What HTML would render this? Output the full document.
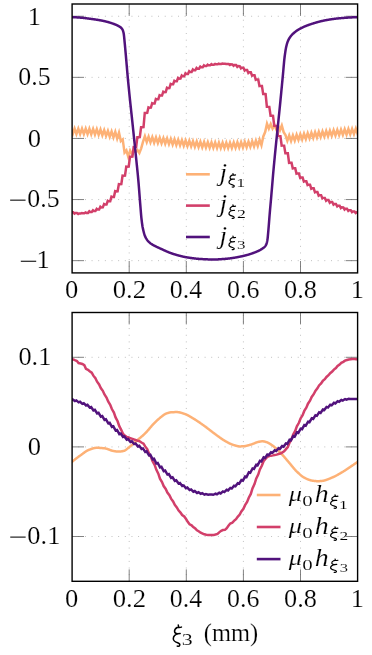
<!DOCTYPE html>
<html><head><meta charset="utf-8"><title>chart</title>
<style>
html,body{margin:0;padding:0;background:#fff}
svg{display:block;will-change:transform}
text{font-family:"Liberation Serif",serif;fill:#000}
.u{font-size:100px;stroke:#fff;stroke-width:0.7}
.i{font-size:100px;font-style:italic;stroke:#fff;stroke-width:0.7}
.g{stroke:#a8a8a8;stroke-width:0.8;stroke-dasharray:0.9 5.75;stroke-dashoffset:0.45;fill:none}
.t{stroke:#5a5a5a;stroke-width:0.75;fill:none}
.f{stroke:#000;stroke-width:1.4;fill:none}
.c path{fill:none;stroke-width:2.5;stroke-linejoin:miter;stroke-miterlimit:10;stroke-linecap:butt}
.l{stroke-width:2.6;fill:none}
</style></head>
<body>
<svg width="372" height="655" viewBox="0 0 372 655">
<rect width="372" height="655" fill="#fff"/>
<line x1="129.20" y1="272.90" x2="129.20" y2="4.00" class="g"/>
<line x1="186.30" y1="272.90" x2="186.30" y2="4.00" class="g"/>
<line x1="243.40" y1="272.90" x2="243.40" y2="4.00" class="g"/>
<line x1="300.50" y1="272.90" x2="300.50" y2="4.00" class="g"/>
<line x1="72.10" y1="16.25" x2="357.60" y2="16.25" class="g"/>
<line x1="72.10" y1="77.35" x2="357.60" y2="77.35" class="g"/>
<line x1="72.10" y1="138.45" x2="357.60" y2="138.45" class="g"/>
<line x1="72.10" y1="199.55" x2="357.60" y2="199.55" class="g"/>
<line x1="72.10" y1="260.65" x2="357.60" y2="260.65" class="g"/>
<line x1="129.20" y1="4.00" x2="129.20" y2="15.90" class="t"/>
<line x1="129.20" y1="272.90" x2="129.20" y2="261.00" class="t"/>
<line x1="186.30" y1="4.00" x2="186.30" y2="15.90" class="t"/>
<line x1="186.30" y1="272.90" x2="186.30" y2="261.00" class="t"/>
<line x1="243.40" y1="4.00" x2="243.40" y2="15.90" class="t"/>
<line x1="243.40" y1="272.90" x2="243.40" y2="261.00" class="t"/>
<line x1="300.50" y1="4.00" x2="300.50" y2="15.90" class="t"/>
<line x1="300.50" y1="272.90" x2="300.50" y2="261.00" class="t"/>
<line x1="72.10" y1="16.25" x2="84.00" y2="16.25" class="t"/>
<line x1="357.60" y1="16.25" x2="345.70" y2="16.25" class="t"/>
<line x1="72.10" y1="77.35" x2="84.00" y2="77.35" class="t"/>
<line x1="357.60" y1="77.35" x2="345.70" y2="77.35" class="t"/>
<line x1="72.10" y1="138.45" x2="84.00" y2="138.45" class="t"/>
<line x1="357.60" y1="138.45" x2="345.70" y2="138.45" class="t"/>
<line x1="72.10" y1="199.55" x2="84.00" y2="199.55" class="t"/>
<line x1="357.60" y1="199.55" x2="345.70" y2="199.55" class="t"/>
<line x1="72.10" y1="260.65" x2="84.00" y2="260.65" class="t"/>
<line x1="357.60" y1="260.65" x2="345.70" y2="260.65" class="t"/>
<clipPath id="c1"><rect x="72.10" y="4.00" width="285.50" height="268.90"/></clipPath>
<g clip-path="url(#c1)" class="c">
<path d="M67.20 128.55 L69.05 134.05 L70.90 128.55 L72.75 134.05 L74.60 128.55 L76.45 134.06 L78.30 128.58 L80.15 134.09 L82.00 128.61 L83.85 134.14 L85.70 128.67 L87.55 134.20 L89.40 128.74 L91.25 134.29 L93.10 128.87 L94.95 134.50 L96.80 129.14 L98.65 134.82 L100.50 129.51 L102.35 135.28 L104.20 130.11 L106.05 135.95 L107.90 130.82 L109.75 136.74 L111.60 131.42 L113.45 137.45 L115.30 131.79 L117.15 138.53 L119.00 132.66 L120.85 141.13 L122.70 139.42 L124.55 152.61 L126.40 150.34 L128.25 156.74 L130.10 150.60 L131.95 154.13 L133.80 150.79 L135.65 152.15 L137.50 150.11 L139.35 153.07 L141.20 148.35 L143.05 141.72 L144.90 136.31 L146.75 141.98 L148.60 136.70 L150.45 142.39 L152.30 137.06 L154.15 142.73 L156.00 137.40 L157.85 143.07 L159.70 137.74 L161.55 143.42 L163.40 138.09 L165.25 143.77 L167.10 138.46 L168.95 144.15 L170.80 138.85 L172.65 144.55 L174.50 139.25 L176.35 144.96 L178.20 139.66 L180.05 145.35 L181.90 140.05 L183.75 145.73 L185.60 140.41 L187.45 146.09 L189.30 140.77 L191.15 146.45 L193.00 141.13 L194.85 146.81 L196.70 141.47 L198.55 147.13 L200.40 141.78 L202.25 147.40 L204.10 142.01 L205.95 147.59 L207.80 142.17 L209.65 147.75 L211.50 142.33 L213.35 147.90 L215.20 142.47 L217.05 148.03 L218.90 142.57 L220.75 148.11 L222.60 142.64 L224.45 148.15 L226.30 142.65 L228.15 148.12 L230.00 142.58 L231.85 148.03 L233.70 142.46 L235.55 147.88 L237.40 142.29 L239.25 147.69 L241.10 142.09 L242.95 147.48 L244.80 141.86 L246.65 147.24 L248.50 141.58 L250.35 146.90 L252.20 141.17 L254.05 146.45 L255.90 140.54 L257.75 146.00 L259.60 139.63 L261.45 145.29 L263.30 136.49 L265.15 132.04 L267.00 123.66 L268.85 128.63 L270.70 124.08 L272.55 128.54 L274.40 125.12 L276.25 129.47 L278.10 125.41 L279.95 130.27 L281.80 125.55 L283.65 132.17 L285.50 135.09 L287.35 140.83 L289.20 135.44 L291.05 140.93 L292.90 135.28 L294.75 140.54 L296.60 134.76 L298.45 139.97 L300.30 134.21 L302.15 139.47 L304.00 133.72 L305.85 138.97 L307.70 133.22 L309.55 138.46 L311.40 132.71 L313.25 137.97 L315.10 132.24 L316.95 137.51 L318.80 131.79 L320.65 137.07 L322.50 131.35 L324.35 136.64 L326.20 130.94 L328.05 136.25 L329.90 130.56 L331.75 135.88 L333.60 130.20 L335.45 135.53 L337.30 129.86 L339.15 135.20 L341.00 129.55 L342.85 134.90 L344.70 129.27 L346.55 134.65 L348.40 129.02 L350.25 134.41 L352.10 128.80 L353.95 134.20 L355.80 128.61 L357.65 134.04 L359.50 128.48 L361.35 133.93 L363.20 128.37 L365.05 133.83 L366.90 128.29 L368.75 133.76 L370.60 128.25 L372.45 133.74 L374.30 128.25 L376.15 133.78 L378.00 128.32 L379.85 133.88 L381.70 128.47 L383.55 134.07 L385.40 128.70 L387.25 134.36" stroke="#fdb176"/>
<path d="M65.81 211.70 L67.07 212.34 L67.88 211.99 L69.51 212.00 L70.77 212.78 L71.58 212.36 L73.21 212.37 L74.47 213.56 L75.28 212.92 L76.91 212.94 L78.17 213.91 L78.98 213.39 L80.61 213.39 L81.87 213.14 L82.68 213.27 L84.31 213.27 L85.57 212.48 L86.38 212.90 L88.01 212.89 L89.27 211.37 L90.08 212.06 L91.71 212.05 L92.97 210.38 L93.78 211.07 L95.41 211.05 L96.67 208.87 L97.48 209.55 L99.11 209.52 L100.37 206.74 L101.18 207.42 L102.81 207.37 L104.07 204.08 L104.88 204.61 L106.51 204.56 L107.77 200.81 L108.58 201.24 L110.21 201.18 L111.47 196.69 L112.28 197.02 L113.91 196.93 L115.17 191.15 L115.98 191.37 L117.61 191.26 L118.87 184.13 L119.68 184.29 L121.31 184.15 L122.57 175.59 L123.38 175.69 L125.01 175.52 L126.27 166.61 L127.08 166.71 L128.71 166.55 L129.97 156.76 L130.78 156.83 L132.41 156.66 L133.67 147.19 L134.48 147.27 L136.11 147.10 L137.37 137.21 L138.18 137.27 L139.81 137.09 L141.07 127.24 L141.88 127.31 L143.51 127.12 L144.77 113.01 L145.58 113.06 L147.21 112.92 L148.47 107.40 L149.28 107.65 L150.91 107.58 L152.17 103.22 L152.98 103.57 L154.61 103.49 L155.87 98.96 L156.68 99.30 L158.31 99.22 L159.57 95.20 L160.38 95.60 L162.01 95.54 L163.27 91.70 L164.08 92.13 L165.71 92.06 L166.97 87.83 L167.78 88.19 L169.41 88.12 L170.67 83.94 L171.48 84.31 L173.11 84.25 L174.37 80.74 L175.18 81.23 L176.81 81.18 L178.07 78.04 L178.88 78.62 L180.51 78.58 L181.77 75.57 L182.58 76.20 L184.21 76.16 L185.47 73.34 L186.28 74.02 L187.91 73.99 L189.17 71.35 L189.98 72.04 L191.61 72.00 L192.87 69.55 L193.68 70.23 L195.31 70.21 L196.57 67.98 L197.38 68.67 L199.01 68.64 L200.27 66.54 L201.08 67.23 L202.71 67.20 L203.97 65.40 L204.78 66.09 L206.41 66.07 L207.67 64.66 L208.48 65.35 L210.11 65.34 L211.37 64.15 L212.18 64.79 L213.81 64.78 L215.07 63.91 L215.88 64.37 L217.51 64.37 L218.77 63.62 L219.58 64.02 L221.21 64.01 L222.47 63.57 L223.28 63.81 L224.91 63.81 L226.17 64.07 L226.98 63.93 L228.61 63.94 L229.87 64.87 L230.68 64.37 L232.31 64.38 L233.57 65.68 L234.38 64.99 L236.01 65.00 L237.27 66.80 L238.08 66.11 L239.71 66.14 L240.97 68.34 L241.78 67.66 L243.41 67.69 L244.67 70.55 L245.48 69.87 L247.11 69.91 L248.37 72.89 L249.18 72.25 L250.81 72.29 L252.07 75.64 L252.88 75.12 L254.51 75.18 L255.77 79.73 L256.58 79.41 L258.21 79.50 L259.47 85.94 L260.28 85.76 L261.91 85.89 L263.17 93.91 L263.98 93.81 L265.61 94.02 L266.87 106.74 L267.68 106.69 L269.31 106.83 L270.57 115.69 L271.38 115.60 L273.01 115.77 L274.27 125.75 L275.08 125.68 L276.71 125.87 L277.97 136.03 L278.78 135.97 L280.41 136.14 L281.67 145.54 L282.48 145.45 L284.11 145.60 L285.37 153.19 L286.18 153.06 L287.81 153.24 L289.07 162.75 L289.88 162.64 L291.51 162.75 L292.77 168.30 L293.58 168.06 L295.21 168.16 L296.47 173.58 L297.28 173.32 L298.91 173.40 L300.17 177.83 L300.98 177.48 L302.61 177.55 L303.87 181.58 L304.68 181.18 L306.31 181.24 L307.57 185.01 L308.38 184.58 L310.01 184.64 L311.27 188.67 L312.08 188.28 L313.71 188.34 L314.97 192.31 L315.78 191.91 L317.41 191.97 L318.67 195.54 L319.48 195.06 L321.11 195.12 L322.37 198.37 L323.18 197.82 L324.81 197.86 L326.07 200.65 L326.88 199.97 L328.51 200.00 L329.77 202.68 L330.58 202.00 L332.21 202.04 L333.47 204.63 L334.28 203.95 L335.91 203.98 L337.17 206.40 L337.98 205.71 L339.61 205.74 L340.87 208.04 L341.68 207.35 L343.31 207.38 L344.57 209.50 L345.38 208.82 L347.01 208.84 L348.27 210.84 L349.08 210.16 L350.71 210.18 L351.97 212.08 L352.78 211.39 L354.41 211.41 L355.67 213.06 L356.48 212.37 L358.11 212.38 L359.37 213.75 L360.18 213.06 L361.81 213.07 L363.07 214.05 L363.88 213.53 L365.51 213.53 L366.77 213.89 L367.58 213.70 L369.21 213.70 L370.47 213.26 L371.28 213.49" stroke="#d23f6a"/>
<path d="M70.10 17.20 L70.35 17.20 L70.60 17.20 L70.85 17.20 L71.10 17.20 L71.35 17.20 L71.60 17.20 L71.85 17.20 L72.10 17.20 L72.35 17.20 L72.60 17.20 L72.85 17.20 L73.10 17.21 L73.35 17.21 L73.60 17.22 L73.85 17.22 L74.10 17.23 L74.35 17.24 L74.60 17.25 L74.85 17.26 L75.10 17.27 L75.35 17.29 L75.60 17.30 L75.85 17.31 L76.10 17.33 L76.35 17.34 L76.60 17.36 L76.85 17.38 L77.10 17.39 L77.35 17.41 L77.60 17.43 L77.85 17.45 L78.10 17.46 L78.35 17.48 L78.60 17.50 L78.85 17.52 L79.10 17.54 L79.35 17.55 L79.60 17.57 L79.85 17.59 L80.10 17.61 L80.35 17.63 L80.60 17.64 L80.85 17.66 L81.10 17.69 L81.35 17.71 L81.60 17.73 L81.85 17.75 L82.10 17.78 L82.35 17.80 L82.60 17.83 L82.85 17.85 L83.10 17.88 L83.35 17.91 L83.60 17.93 L83.85 17.96 L84.10 17.99 L84.35 18.02 L84.60 18.05 L84.85 18.08 L85.10 18.11 L85.35 18.14 L85.60 18.17 L85.85 18.21 L86.10 18.24 L86.35 18.27 L86.60 18.30 L86.85 18.33 L87.10 18.37 L87.35 18.40 L87.60 18.43 L87.85 18.47 L88.10 18.50 L88.35 18.54 L88.60 18.57 L88.85 18.60 L89.10 18.64 L89.35 18.67 L89.60 18.71 L89.85 18.74 L90.10 18.77 L90.35 18.81 L90.60 18.84 L90.85 18.87 L91.10 18.91 L91.35 18.94 L91.60 18.98 L91.85 19.01 L92.10 19.04 L92.35 19.08 L92.60 19.11 L92.85 19.15 L93.10 19.18 L93.35 19.22 L93.60 19.25 L93.85 19.29 L94.10 19.33 L94.35 19.36 L94.60 19.40 L94.85 19.43 L95.10 19.47 L95.35 19.51 L95.60 19.55 L95.85 19.58 L96.10 19.62 L96.35 19.66 L96.60 19.70 L96.85 19.74 L97.10 19.78 L97.35 19.81 L97.60 19.85 L97.85 19.90 L98.10 19.94 L98.35 19.98 L98.60 20.02 L98.85 20.06 L99.10 20.10 L99.35 20.15 L99.60 20.19 L99.85 20.23 L100.10 20.28 L100.35 20.32 L100.60 20.37 L100.85 20.41 L101.10 20.46 L101.35 20.51 L101.60 20.56 L101.85 20.60 L102.10 20.65 L102.35 20.70 L102.60 20.75 L102.85 20.80 L103.10 20.85 L103.35 20.91 L103.60 20.96 L103.85 21.01 L104.10 21.06 L104.35 21.12 L104.60 21.18 L104.85 21.23 L105.10 21.29 L105.35 21.35 L105.60 21.41 L105.85 21.47 L106.10 21.54 L106.35 21.60 L106.60 21.66 L106.85 21.73 L107.10 21.80 L107.35 21.86 L107.60 21.93 L107.85 22.00 L108.10 22.07 L108.35 22.14 L108.60 22.22 L108.85 22.29 L109.10 22.36 L109.35 22.44 L109.60 22.52 L109.85 22.59 L110.10 22.67 L110.35 22.75 L110.60 22.83 L110.85 22.91 L111.10 22.99 L111.35 23.08 L111.60 23.16 L111.85 23.25 L112.10 23.33 L112.35 23.42 L112.60 23.51 L112.85 23.59 L113.10 23.68 L113.35 23.77 L113.60 23.86 L113.85 23.96 L114.10 24.05 L114.35 24.14 L114.60 24.24 L114.85 24.33 L115.10 24.43 L115.35 24.53 L115.60 24.63 L115.85 24.73 L116.10 24.83 L116.35 24.94 L116.60 25.05 L116.85 25.16 L117.10 25.28 L117.35 25.39 L117.60 25.52 L117.85 25.64 L118.10 25.77 L118.35 25.91 L118.60 26.05 L118.85 26.20 L119.10 26.35 L119.35 26.50 L119.60 26.67 L119.85 26.83 L120.10 27.00 L120.35 27.17 L120.60 27.36 L120.85 27.56 L121.10 27.78 L121.35 28.02 L121.60 28.29 L121.85 28.58 L122.10 28.91 L122.35 29.28 L122.60 29.74 L122.85 30.34 L123.10 31.08 L123.35 31.97 L123.60 33.00 L123.85 34.49 L124.10 36.61 L124.35 39.12 L124.60 41.82 L124.85 44.49 L125.10 47.07 L125.35 49.79 L125.60 52.61 L125.85 55.48 L126.10 58.37 L126.35 61.23 L126.60 64.08 L126.85 66.97 L127.10 69.88 L127.35 72.77 L127.60 75.62 L127.85 78.39 L128.10 81.05 L128.35 83.66 L128.60 86.22 L128.85 88.74 L129.10 91.23 L129.35 93.69 L129.60 96.12 L129.85 98.52 L130.10 100.90 L130.35 103.26 L130.60 105.61 L130.85 107.95 L131.10 110.28 L131.35 112.60 L131.60 114.93 L131.85 117.25 L132.10 119.58 L132.35 121.93 L132.60 124.28 L132.85 126.65 L133.10 129.04 L133.35 131.44 L133.60 133.85 L133.85 136.25 L134.10 138.65 L134.35 141.05 L134.60 143.45 L134.85 145.85 L135.10 148.26 L135.35 150.68 L135.60 153.11 L135.85 155.55 L136.10 158.00 L136.35 160.44 L136.60 162.85 L136.85 165.25 L137.10 167.67 L137.35 170.11 L137.60 172.61 L137.85 175.17 L138.10 177.81 L138.35 180.56 L138.60 183.47 L138.85 186.52 L139.10 189.68 L139.35 192.90 L139.60 196.15 L139.85 199.37 L140.10 202.54 L140.35 205.61 L140.60 208.76 L140.85 211.93 L141.10 214.92 L141.35 217.54 L141.60 219.76 L141.85 221.83 L142.10 223.73 L142.35 225.45 L142.60 226.96 L142.85 228.24 L143.10 229.39 L143.35 230.49 L143.60 231.52 L143.85 232.48 L144.10 233.38 L144.35 234.22 L144.60 234.99 L144.85 235.69 L145.10 236.33 L145.35 236.89 L145.60 237.39 L145.85 237.86 L146.10 238.31 L146.35 238.73 L146.60 239.13 L146.85 239.51 L147.10 239.88 L147.35 240.22 L147.60 240.54 L147.85 240.85 L148.10 241.14 L148.35 241.42 L148.60 241.68 L148.85 241.93 L149.10 242.16 L149.35 242.39 L149.60 242.60 L149.85 242.80 L150.10 243.00 L150.35 243.20 L150.60 243.38 L150.85 243.57 L151.10 243.75 L151.35 243.92 L151.60 244.09 L151.85 244.26 L152.10 244.42 L152.35 244.58 L152.60 244.73 L152.85 244.88 L153.10 245.03 L153.35 245.17 L153.60 245.31 L153.85 245.45 L154.10 245.58 L154.35 245.71 L154.60 245.84 L154.85 245.97 L155.10 246.10 L155.35 246.22 L155.60 246.34 L155.85 246.46 L156.10 246.58 L156.35 246.69 L156.60 246.81 L156.85 246.93 L157.10 247.04 L157.35 247.15 L157.60 247.27 L157.85 247.38 L158.10 247.49 L158.35 247.60 L158.60 247.72 L158.85 247.83 L159.10 247.94 L159.35 248.06 L159.60 248.17 L159.85 248.29 L160.10 248.41 L160.35 248.52 L160.60 248.64 L160.85 248.76 L161.10 248.88 L161.35 249.00 L161.60 249.12 L161.85 249.23 L162.10 249.35 L162.35 249.47 L162.60 249.59 L162.85 249.70 L163.10 249.82 L163.35 249.93 L163.60 250.05 L163.85 250.16 L164.10 250.28 L164.35 250.39 L164.60 250.50 L164.85 250.62 L165.10 250.73 L165.35 250.84 L165.60 250.95 L165.85 251.06 L166.10 251.17 L166.35 251.28 L166.60 251.39 L166.85 251.50 L167.10 251.60 L167.35 251.71 L167.60 251.81 L167.85 251.92 L168.10 252.02 L168.35 252.12 L168.60 252.23 L168.85 252.33 L169.10 252.43 L169.35 252.53 L169.60 252.62 L169.85 252.72 L170.10 252.82 L170.35 252.91 L170.60 253.01 L170.85 253.10 L171.10 253.19 L171.35 253.28 L171.60 253.37 L171.85 253.46 L172.10 253.54 L172.35 253.63 L172.60 253.71 L172.85 253.80 L173.10 253.88 L173.35 253.96 L173.60 254.04 L173.85 254.12 L174.10 254.19 L174.35 254.27 L174.60 254.35 L174.85 254.42 L175.10 254.50 L175.35 254.57 L175.60 254.65 L175.85 254.72 L176.10 254.79 L176.35 254.87 L176.60 254.94 L176.85 255.01 L177.10 255.08 L177.35 255.15 L177.60 255.22 L177.85 255.29 L178.10 255.36 L178.35 255.43 L178.60 255.50 L178.85 255.57 L179.10 255.63 L179.35 255.70 L179.60 255.77 L179.85 255.83 L180.10 255.90 L180.35 255.96 L180.60 256.02 L180.85 256.09 L181.10 256.15 L181.35 256.21 L181.60 256.27 L181.85 256.33 L182.10 256.39 L182.35 256.44 L182.60 256.50 L182.85 256.56 L183.10 256.61 L183.35 256.67 L183.60 256.72 L183.85 256.78 L184.10 256.83 L184.35 256.88 L184.60 256.93 L184.85 256.98 L185.10 257.03 L185.35 257.08 L185.60 257.12 L185.85 257.17 L186.10 257.21 L186.35 257.26 L186.60 257.30 L186.85 257.34 L187.10 257.38 L187.35 257.42 L187.60 257.46 L187.85 257.50 L188.10 257.54 L188.35 257.58 L188.60 257.62 L188.85 257.66 L189.10 257.70 L189.35 257.74 L189.60 257.78 L189.85 257.81 L190.10 257.85 L190.35 257.89 L190.60 257.92 L190.85 257.96 L191.10 258.00 L191.35 258.03 L191.60 258.07 L191.85 258.10 L192.10 258.14 L192.35 258.17 L192.60 258.20 L192.85 258.24 L193.10 258.27 L193.35 258.30 L193.60 258.33 L193.85 258.36 L194.10 258.40 L194.35 258.43 L194.60 258.46 L194.85 258.49 L195.10 258.51 L195.35 258.54 L195.60 258.57 L195.85 258.60 L196.10 258.62 L196.35 258.65 L196.60 258.68 L196.85 258.70 L197.10 258.73 L197.35 258.75 L197.60 258.77 L197.85 258.80 L198.10 258.82 L198.35 258.84 L198.60 258.86 L198.85 258.88 L199.10 258.90 L199.35 258.92 L199.60 258.94 L199.85 258.95 L200.10 258.97 L200.35 258.98 L200.60 259.00 L200.85 259.01 L201.10 259.03 L201.35 259.04 L201.60 259.06 L201.85 259.07 L202.10 259.09 L202.35 259.10 L202.60 259.12 L202.85 259.13 L203.10 259.14 L203.35 259.16 L203.60 259.17 L203.85 259.19 L204.10 259.20 L204.35 259.21 L204.60 259.23 L204.85 259.24 L205.10 259.25 L205.35 259.27 L205.60 259.28 L205.85 259.29 L206.10 259.30 L206.35 259.31 L206.60 259.33 L206.85 259.34 L207.10 259.35 L207.35 259.36 L207.60 259.37 L207.85 259.38 L208.10 259.39 L208.35 259.40 L208.60 259.41 L208.85 259.42 L209.10 259.42 L209.35 259.43 L209.60 259.44 L209.85 259.45 L210.10 259.45 L210.35 259.46 L210.60 259.47 L210.85 259.47 L211.10 259.48 L211.35 259.48 L211.60 259.49 L211.85 259.49 L212.10 259.49 L212.35 259.50 L212.60 259.50 L212.85 259.50 L213.10 259.50 L213.35 259.50 L213.60 259.50 L213.85 259.50 L214.10 259.50 L214.35 259.49 L214.60 259.49 L214.85 259.49 L215.10 259.48 L215.35 259.48 L215.60 259.47 L215.85 259.46 L216.10 259.45 L216.35 259.45 L216.60 259.44 L216.85 259.43 L217.10 259.42 L217.35 259.40 L217.60 259.39 L217.85 259.38 L218.10 259.37 L218.35 259.36 L218.60 259.34 L218.85 259.33 L219.10 259.31 L219.35 259.30 L219.60 259.28 L219.85 259.27 L220.10 259.25 L220.35 259.23 L220.60 259.21 L220.85 259.20 L221.10 259.18 L221.35 259.16 L221.60 259.14 L221.85 259.12 L222.10 259.10 L222.35 259.08 L222.60 259.06 L222.85 259.04 L223.10 259.02 L223.35 259.00 L223.60 258.98 L223.85 258.96 L224.10 258.94 L224.35 258.92 L224.60 258.90 L224.85 258.88 L225.10 258.86 L225.35 258.83 L225.60 258.81 L225.85 258.79 L226.10 258.77 L226.35 258.75 L226.60 258.73 L226.85 258.70 L227.10 258.68 L227.35 258.66 L227.60 258.64 L227.85 258.61 L228.10 258.59 L228.35 258.56 L228.60 258.53 L228.85 258.51 L229.10 258.48 L229.35 258.45 L229.60 258.42 L229.85 258.39 L230.10 258.36 L230.35 258.32 L230.60 258.29 L230.85 258.26 L231.10 258.22 L231.35 258.19 L231.60 258.15 L231.85 258.11 L232.10 258.08 L232.35 258.04 L232.60 258.00 L232.85 257.96 L233.10 257.92 L233.35 257.88 L233.60 257.84 L233.85 257.80 L234.10 257.76 L234.35 257.72 L234.60 257.68 L234.85 257.63 L235.10 257.59 L235.35 257.54 L235.60 257.50 L235.85 257.46 L236.10 257.41 L236.35 257.36 L236.60 257.32 L236.85 257.27 L237.10 257.23 L237.35 257.18 L237.60 257.13 L237.85 257.08 L238.10 257.03 L238.35 256.99 L238.60 256.94 L238.85 256.89 L239.10 256.84 L239.35 256.79 L239.60 256.74 L239.85 256.69 L240.10 256.64 L240.35 256.59 L240.60 256.54 L240.85 256.49 L241.10 256.44 L241.35 256.38 L241.60 256.33 L241.85 256.27 L242.10 256.22 L242.35 256.16 L242.60 256.11 L242.85 256.05 L243.10 255.99 L243.35 255.93 L243.60 255.88 L243.85 255.82 L244.10 255.76 L244.35 255.69 L244.60 255.63 L244.85 255.57 L245.10 255.51 L245.35 255.44 L245.60 255.38 L245.85 255.31 L246.10 255.24 L246.35 255.18 L246.60 255.11 L246.85 255.04 L247.10 254.97 L247.35 254.90 L247.60 254.83 L247.85 254.76 L248.10 254.68 L248.35 254.61 L248.60 254.54 L248.85 254.46 L249.10 254.38 L249.35 254.31 L249.60 254.23 L249.85 254.15 L250.10 254.07 L250.35 253.99 L250.60 253.91 L250.85 253.83 L251.10 253.75 L251.35 253.66 L251.60 253.58 L251.85 253.49 L252.10 253.41 L252.35 253.32 L252.60 253.23 L252.85 253.14 L253.10 253.06 L253.35 252.96 L253.60 252.87 L253.85 252.78 L254.10 252.69 L254.35 252.59 L254.60 252.50 L254.85 252.40 L255.10 252.31 L255.35 252.21 L255.60 252.11 L255.85 252.01 L256.10 251.91 L256.35 251.80 L256.60 251.70 L256.85 251.59 L257.10 251.48 L257.35 251.37 L257.60 251.26 L257.85 251.14 L258.10 251.03 L258.35 250.91 L258.60 250.79 L258.85 250.66 L259.10 250.53 L259.35 250.40 L259.60 250.27 L259.85 250.14 L260.10 250.00 L260.35 249.86 L260.60 249.71 L260.85 249.56 L261.10 249.41 L261.35 249.26 L261.60 249.10 L261.85 248.94 L262.10 248.77 L262.35 248.60 L262.60 248.43 L262.85 248.25 L263.10 248.07 L263.35 247.89 L263.60 247.70 L263.85 247.51 L264.10 247.31 L264.35 247.09 L264.60 246.86 L264.85 246.60 L265.10 246.31 L265.35 246.00 L265.60 245.65 L265.85 245.25 L266.10 244.81 L266.35 244.23 L266.60 243.48 L266.85 242.57 L267.10 241.50 L267.35 240.27 L267.60 238.62 L267.85 236.25 L268.10 233.45 L268.35 230.56 L268.60 227.68 L268.85 224.56 L269.10 221.32 L269.35 218.09 L269.60 215.00 L269.85 212.07 L270.10 209.22 L270.35 206.42 L270.60 203.65 L270.85 200.86 L271.10 198.04 L271.35 195.17 L271.60 192.23 L271.85 189.27 L272.10 186.28 L272.35 183.29 L272.60 180.31 L272.85 177.37 L273.10 174.48 L273.35 171.66 L273.60 168.91 L273.85 166.21 L274.10 163.55 L274.35 160.91 L274.60 158.31 L274.85 155.74 L275.10 153.19 L275.35 150.66 L275.60 148.15 L275.85 145.67 L276.10 143.19 L276.35 140.74 L276.60 138.29 L276.85 135.86 L277.10 133.43 L277.35 131.01 L277.60 128.59 L277.85 126.17 L278.10 123.75 L278.35 121.32 L278.60 118.89 L278.85 116.45 L279.10 114.01 L279.35 111.55 L279.60 109.07 L279.85 106.58 L280.10 104.06 L280.35 101.53 L280.60 98.98 L280.85 96.40 L281.10 93.82 L281.35 91.23 L281.60 88.62 L281.85 86.01 L282.10 83.40 L282.35 80.78 L282.60 78.15 L282.85 75.53 L283.10 72.84 L283.35 70.01 L283.60 67.13 L283.85 64.30 L284.10 61.60 L284.35 59.14 L284.60 57.00 L284.85 55.10 L285.10 53.31 L285.35 51.62 L285.60 50.05 L285.85 48.62 L286.10 47.33 L286.35 46.21 L286.60 45.21 L286.85 44.29 L287.10 43.43 L287.35 42.64 L287.60 41.92 L287.85 41.25 L288.10 40.65 L288.35 40.10 L288.60 39.60 L288.85 39.13 L289.10 38.68 L289.35 38.26 L289.60 37.85 L289.85 37.47 L290.10 37.10 L290.35 36.76 L290.60 36.42 L290.85 36.10 L291.10 35.80 L291.35 35.51 L291.60 35.23 L291.85 34.96 L292.10 34.70 L292.35 34.44 L292.60 34.19 L292.85 33.94 L293.10 33.70 L293.35 33.47 L293.60 33.24 L293.85 33.01 L294.10 32.79 L294.35 32.57 L294.60 32.36 L294.85 32.15 L295.10 31.95 L295.35 31.75 L295.60 31.56 L295.85 31.36 L296.10 31.18 L296.35 31.00 L296.60 30.82 L296.85 30.64 L297.10 30.47 L297.35 30.30 L297.60 30.14 L297.85 29.98 L298.10 29.82 L298.35 29.67 L298.60 29.52 L298.85 29.37 L299.10 29.23 L299.35 29.08 L299.60 28.94 L299.85 28.81 L300.10 28.67 L300.35 28.54 L300.60 28.41 L300.85 28.28 L301.10 28.15 L301.35 28.02 L301.60 27.90 L301.85 27.77 L302.10 27.65 L302.35 27.53 L302.60 27.41 L302.85 27.30 L303.10 27.18 L303.35 27.07 L303.60 26.95 L303.85 26.84 L304.10 26.73 L304.35 26.62 L304.60 26.51 L304.85 26.41 L305.10 26.30 L305.35 26.20 L305.60 26.10 L305.85 26.00 L306.10 25.89 L306.35 25.80 L306.60 25.70 L306.85 25.60 L307.10 25.50 L307.35 25.41 L307.60 25.32 L307.85 25.22 L308.10 25.13 L308.35 25.04 L308.60 24.95 L308.85 24.86 L309.10 24.77 L309.35 24.68 L309.60 24.60 L309.85 24.51 L310.10 24.42 L310.35 24.34 L310.60 24.26 L310.85 24.17 L311.10 24.09 L311.35 24.01 L311.60 23.93 L311.85 23.84 L312.10 23.76 L312.35 23.68 L312.60 23.60 L312.85 23.53 L313.10 23.45 L313.35 23.37 L313.60 23.29 L313.85 23.21 L314.10 23.14 L314.35 23.06 L314.60 22.98 L314.85 22.91 L315.10 22.83 L315.35 22.76 L315.60 22.68 L315.85 22.61 L316.10 22.54 L316.35 22.47 L316.60 22.39 L316.85 22.32 L317.10 22.25 L317.35 22.18 L317.60 22.11 L317.85 22.04 L318.10 21.97 L318.35 21.91 L318.60 21.84 L318.85 21.77 L319.10 21.71 L319.35 21.64 L319.60 21.58 L319.85 21.51 L320.10 21.45 L320.35 21.39 L320.60 21.32 L320.85 21.26 L321.10 21.20 L321.35 21.14 L321.60 21.08 L321.85 21.02 L322.10 20.97 L322.35 20.91 L322.60 20.85 L322.85 20.80 L323.10 20.74 L323.35 20.69 L323.60 20.64 L323.85 20.58 L324.10 20.53 L324.35 20.48 L324.60 20.43 L324.85 20.38 L325.10 20.33 L325.35 20.28 L325.60 20.24 L325.85 20.19 L326.10 20.15 L326.35 20.10 L326.60 20.06 L326.85 20.01 L327.10 19.97 L327.35 19.92 L327.60 19.88 L327.85 19.84 L328.10 19.79 L328.35 19.75 L328.60 19.71 L328.85 19.67 L329.10 19.63 L329.35 19.59 L329.60 19.55 L329.85 19.51 L330.10 19.47 L330.35 19.43 L330.60 19.39 L330.85 19.35 L331.10 19.31 L331.35 19.27 L331.60 19.24 L331.85 19.20 L332.10 19.16 L332.35 19.13 L332.60 19.09 L332.85 19.05 L333.10 19.02 L333.35 18.99 L333.60 18.95 L333.85 18.92 L334.10 18.88 L334.35 18.85 L334.60 18.82 L334.85 18.79 L335.10 18.76 L335.35 18.72 L335.60 18.69 L335.85 18.66 L336.10 18.63 L336.35 18.60 L336.60 18.57 L336.85 18.55 L337.10 18.52 L337.35 18.49 L337.60 18.46 L337.85 18.44 L338.10 18.41 L338.35 18.38 L338.60 18.36 L338.85 18.33 L339.10 18.31 L339.35 18.29 L339.60 18.26 L339.85 18.24 L340.10 18.21 L340.35 18.19 L340.60 18.17 L340.85 18.15 L341.10 18.12 L341.35 18.10 L341.60 18.08 L341.85 18.06 L342.10 18.04 L342.35 18.02 L342.60 18.00 L342.85 17.98 L343.10 17.96 L343.35 17.94 L343.60 17.92 L343.85 17.90 L344.10 17.88 L344.35 17.86 L344.60 17.84 L344.85 17.82 L345.10 17.80 L345.35 17.78 L345.60 17.77 L345.85 17.75 L346.10 17.73 L346.35 17.72 L346.60 17.70 L346.85 17.68 L347.10 17.67 L347.35 17.65 L347.60 17.64 L347.85 17.62 L348.10 17.60 L348.35 17.59 L348.60 17.58 L348.85 17.56 L349.10 17.55 L349.35 17.53 L349.60 17.52 L349.85 17.51 L350.10 17.49 L350.35 17.48 L350.60 17.47 L350.85 17.46 L351.10 17.44 L351.35 17.43 L351.60 17.41 L351.85 17.40 L352.10 17.39 L352.35 17.37 L352.60 17.36 L352.85 17.35 L353.10 17.33 L353.35 17.32 L353.60 17.31 L353.85 17.30 L354.10 17.29 L354.35 17.28 L354.60 17.26 L354.85 17.25 L355.10 17.25 L355.35 17.24 L355.60 17.23 L355.85 17.22 L356.10 17.22 L356.35 17.21 L356.60 17.21 L356.85 17.20 L357.10 17.20 L357.35 17.20 L357.60 17.20 L357.85 17.20 L358.10 17.20 L358.35 17.20 L358.60 17.20 L358.85 17.20 L359.10 17.20 L359.35 17.20 L359.60 17.20" stroke="#51127c"/>
</g>
<rect x="72.10" y="4.00" width="285.50" height="268.90" class="f"/>
<line x1="129.20" y1="581.30" x2="129.20" y2="312.50" class="g"/>
<line x1="186.30" y1="581.30" x2="186.30" y2="312.50" class="g"/>
<line x1="243.40" y1="581.30" x2="243.40" y2="312.50" class="g"/>
<line x1="300.50" y1="581.30" x2="300.50" y2="312.50" class="g"/>
<line x1="72.10" y1="357.30" x2="357.60" y2="357.30" class="g"/>
<line x1="72.10" y1="446.90" x2="357.60" y2="446.90" class="g"/>
<line x1="72.10" y1="536.50" x2="357.60" y2="536.50" class="g"/>
<line x1="129.20" y1="312.50" x2="129.20" y2="324.40" class="t"/>
<line x1="129.20" y1="581.30" x2="129.20" y2="569.40" class="t"/>
<line x1="186.30" y1="312.50" x2="186.30" y2="324.40" class="t"/>
<line x1="186.30" y1="581.30" x2="186.30" y2="569.40" class="t"/>
<line x1="243.40" y1="312.50" x2="243.40" y2="324.40" class="t"/>
<line x1="243.40" y1="581.30" x2="243.40" y2="569.40" class="t"/>
<line x1="300.50" y1="312.50" x2="300.50" y2="324.40" class="t"/>
<line x1="300.50" y1="581.30" x2="300.50" y2="569.40" class="t"/>
<line x1="72.10" y1="357.30" x2="84.00" y2="357.30" class="t"/>
<line x1="357.60" y1="357.30" x2="345.70" y2="357.30" class="t"/>
<line x1="72.10" y1="446.90" x2="84.00" y2="446.90" class="t"/>
<line x1="357.60" y1="446.90" x2="345.70" y2="446.90" class="t"/>
<line x1="72.10" y1="536.50" x2="84.00" y2="536.50" class="t"/>
<line x1="357.60" y1="536.50" x2="345.70" y2="536.50" class="t"/>
<clipPath id="c2"><rect x="72.10" y="312.50" width="285.50" height="268.80"/></clipPath>
<g clip-path="url(#c2)" class="c">
<path d="M70.10 463.34 L70.35 463.14 L70.60 462.95 L70.85 462.75 L71.10 462.55 L71.35 462.35 L71.60 462.16 L71.85 461.96 L72.10 461.76 L72.35 461.56 L72.60 461.36 L72.85 461.16 L73.10 460.95 L73.35 460.75 L73.60 460.54 L73.85 460.34 L74.10 460.13 L74.35 459.92 L74.60 459.72 L74.85 459.51 L75.10 459.31 L75.35 459.11 L75.60 458.91 L75.85 458.72 L76.10 458.52 L76.35 458.33 L76.60 458.14 L76.85 457.95 L77.10 457.76 L77.35 457.58 L77.60 457.39 L77.85 457.21 L78.10 457.02 L78.35 456.84 L78.60 456.66 L78.85 456.48 L79.10 456.30 L79.35 456.12 L79.60 455.94 L79.85 455.76 L80.10 455.59 L80.35 455.41 L80.60 455.24 L80.85 455.07 L81.10 454.89 L81.35 454.71 L81.60 454.53 L81.85 454.35 L82.10 454.17 L82.35 453.98 L82.60 453.80 L82.85 453.61 L83.10 453.43 L83.35 453.24 L83.60 453.05 L83.85 452.87 L84.10 452.69 L84.35 452.50 L84.60 452.32 L84.85 452.14 L85.10 451.97 L85.35 451.80 L85.60 451.63 L85.85 451.46 L86.10 451.30 L86.35 451.14 L86.60 450.99 L86.85 450.84 L87.10 450.70 L87.35 450.56 L87.60 450.43 L87.85 450.31 L88.10 450.19 L88.35 450.08 L88.60 449.98 L88.85 449.88 L89.10 449.79 L89.35 449.69 L89.60 449.60 L89.85 449.51 L90.10 449.42 L90.35 449.32 L90.60 449.23 L90.85 449.14 L91.10 449.05 L91.35 448.96 L91.60 448.88 L91.85 448.79 L92.10 448.71 L92.35 448.63 L92.60 448.55 L92.85 448.47 L93.10 448.40 L93.35 448.33 L93.60 448.27 L93.85 448.20 L94.10 448.14 L94.35 448.09 L94.60 448.04 L94.85 447.99 L95.10 447.95 L95.35 447.91 L95.60 447.88 L95.85 447.85 L96.10 447.83 L96.35 447.81 L96.60 447.80 L96.85 447.80 L97.10 447.80 L97.35 447.80 L97.60 447.81 L97.85 447.81 L98.10 447.82 L98.35 447.83 L98.60 447.83 L98.85 447.84 L99.10 447.86 L99.35 447.87 L99.60 447.88 L99.85 447.90 L100.10 447.92 L100.35 447.93 L100.60 447.95 L100.85 447.97 L101.10 447.99 L101.35 448.01 L101.60 448.03 L101.85 448.06 L102.10 448.08 L102.35 448.11 L102.60 448.13 L102.85 448.16 L103.10 448.18 L103.35 448.21 L103.60 448.24 L103.85 448.27 L104.10 448.29 L104.35 448.32 L104.60 448.35 L104.85 448.38 L105.10 448.41 L105.35 448.45 L105.60 448.49 L105.85 448.55 L106.10 448.60 L106.35 448.67 L106.60 448.74 L106.85 448.81 L107.10 448.89 L107.35 448.97 L107.60 449.06 L107.85 449.15 L108.10 449.24 L108.35 449.34 L108.60 449.43 L108.85 449.53 L109.10 449.63 L109.35 449.73 L109.60 449.83 L109.85 449.93 L110.10 450.02 L110.35 450.12 L110.60 450.21 L110.85 450.30 L111.10 450.39 L111.35 450.47 L111.60 450.55 L111.85 450.63 L112.10 450.70 L112.35 450.76 L112.60 450.82 L112.85 450.87 L113.10 450.92 L113.35 450.96 L113.60 451.01 L113.85 451.05 L114.10 451.10 L114.35 451.14 L114.60 451.19 L114.85 451.23 L115.10 451.28 L115.35 451.32 L115.60 451.36 L115.85 451.39 L116.10 451.43 L116.35 451.46 L116.60 451.49 L116.85 451.52 L117.10 451.54 L117.35 451.56 L117.60 451.58 L117.85 451.59 L118.10 451.60 L118.35 451.60 L118.60 451.60 L118.85 451.59 L119.10 451.59 L119.35 451.57 L119.60 451.56 L119.85 451.54 L120.10 451.52 L120.35 451.49 L120.60 451.46 L120.85 451.43 L121.10 451.40 L121.35 451.36 L121.60 451.32 L121.85 451.28 L122.10 451.24 L122.35 451.19 L122.60 451.15 L122.85 451.10 L123.10 451.05 L123.35 451.00 L123.60 450.94 L123.85 450.89 L124.10 450.82 L124.35 450.73 L124.60 450.62 L124.85 450.50 L125.10 450.36 L125.35 450.21 L125.60 450.05 L125.85 449.87 L126.10 449.68 L126.35 449.49 L126.60 449.29 L126.85 449.08 L127.10 448.87 L127.35 448.66 L127.60 448.44 L127.85 448.23 L128.10 448.01 L128.35 447.80 L128.60 447.60 L128.85 447.39 L129.10 447.20 L129.35 447.01 L129.60 446.81 L129.85 446.62 L130.10 446.42 L130.35 446.22 L130.60 446.01 L130.85 445.81 L131.10 445.60 L131.35 445.39 L131.60 445.18 L131.85 444.97 L132.10 444.76 L132.35 444.55 L132.60 444.33 L132.85 444.11 L133.10 443.90 L133.35 443.68 L133.60 443.46 L133.85 443.24 L134.10 443.02 L134.35 442.80 L134.60 442.58 L134.85 442.36 L135.10 442.14 L135.35 441.92 L135.60 441.70 L135.85 441.48 L136.10 441.26 L136.35 441.04 L136.60 440.82 L136.85 440.60 L137.10 440.39 L137.35 440.17 L137.60 439.96 L137.85 439.74 L138.10 439.53 L138.35 439.32 L138.60 439.11 L138.85 438.90 L139.10 438.69 L139.35 438.48 L139.60 438.27 L139.85 438.06 L140.10 437.85 L140.35 437.64 L140.60 437.42 L140.85 437.21 L141.10 437.00 L141.35 436.79 L141.60 436.57 L141.85 436.36 L142.10 436.14 L142.35 435.92 L142.60 435.71 L142.85 435.48 L143.10 435.26 L143.35 435.04 L143.60 434.81 L143.85 434.58 L144.10 434.35 L144.35 434.11 L144.60 433.88 L144.85 433.64 L145.10 433.40 L145.35 433.15 L145.60 432.90 L145.85 432.64 L146.10 432.38 L146.35 432.12 L146.60 431.85 L146.85 431.57 L147.10 431.29 L147.35 431.01 L147.60 430.72 L147.85 430.44 L148.10 430.15 L148.35 429.85 L148.60 429.56 L148.85 429.26 L149.10 428.97 L149.35 428.67 L149.60 428.37 L149.85 428.08 L150.10 427.78 L150.35 427.49 L150.60 427.19 L150.85 426.90 L151.10 426.61 L151.35 426.32 L151.60 426.04 L151.85 425.76 L152.10 425.48 L152.35 425.20 L152.60 424.93 L152.85 424.67 L153.10 424.40 L153.35 424.15 L153.60 423.90 L153.85 423.64 L154.10 423.39 L154.35 423.14 L154.60 422.88 L154.85 422.63 L155.10 422.38 L155.35 422.13 L155.60 421.89 L155.85 421.64 L156.10 421.39 L156.35 421.15 L156.60 420.91 L156.85 420.67 L157.10 420.43 L157.35 420.19 L157.60 419.95 L157.85 419.72 L158.10 419.49 L158.35 419.26 L158.60 419.04 L158.85 418.81 L159.10 418.59 L159.35 418.37 L159.60 418.16 L159.85 417.94 L160.10 417.74 L160.35 417.53 L160.60 417.33 L160.85 417.13 L161.10 416.93 L161.35 416.74 L161.60 416.55 L161.85 416.35 L162.10 416.16 L162.35 415.97 L162.60 415.77 L162.85 415.58 L163.10 415.39 L163.35 415.20 L163.60 415.02 L163.85 414.84 L164.10 414.67 L164.35 414.50 L164.60 414.35 L164.85 414.20 L165.10 414.05 L165.35 413.92 L165.60 413.80 L165.85 413.70 L166.10 413.60 L166.35 413.51 L166.60 413.42 L166.85 413.34 L167.10 413.25 L167.35 413.17 L167.60 413.09 L167.85 413.01 L168.10 412.93 L168.35 412.86 L168.60 412.79 L168.85 412.72 L169.10 412.65 L169.35 412.59 L169.60 412.53 L169.85 412.48 L170.10 412.43 L170.35 412.38 L170.60 412.34 L170.85 412.30 L171.10 412.27 L171.35 412.24 L171.60 412.22 L171.85 412.21 L172.10 412.20 L172.35 412.19 L172.60 412.18 L172.85 412.17 L173.10 412.16 L173.35 412.16 L173.60 412.15 L173.85 412.14 L174.10 412.14 L174.35 412.13 L174.60 412.12 L174.85 412.12 L175.10 412.12 L175.35 412.11 L175.60 412.11 L175.85 412.11 L176.10 412.10 L176.35 412.10 L176.60 412.10 L176.85 412.10 L177.10 412.10 L177.35 412.11 L177.60 412.12 L177.85 412.14 L178.10 412.17 L178.35 412.19 L178.60 412.23 L178.85 412.27 L179.10 412.31 L179.35 412.35 L179.60 412.41 L179.85 412.46 L180.10 412.52 L180.35 412.58 L180.60 412.64 L180.85 412.71 L181.10 412.78 L181.35 412.85 L181.60 412.92 L181.85 413.00 L182.10 413.08 L182.35 413.16 L182.60 413.24 L182.85 413.32 L183.10 413.40 L183.35 413.48 L183.60 413.57 L183.85 413.65 L184.10 413.73 L184.35 413.82 L184.60 413.90 L184.85 413.98 L185.10 414.07 L185.35 414.16 L185.60 414.25 L185.85 414.35 L186.10 414.45 L186.35 414.56 L186.60 414.67 L186.85 414.79 L187.10 414.91 L187.35 415.03 L187.60 415.16 L187.85 415.29 L188.10 415.42 L188.35 415.55 L188.60 415.69 L188.85 415.83 L189.10 415.97 L189.35 416.12 L189.60 416.26 L189.85 416.41 L190.10 416.56 L190.35 416.71 L190.60 416.86 L190.85 417.01 L191.10 417.16 L191.35 417.31 L191.60 417.46 L191.85 417.61 L192.10 417.76 L192.35 417.91 L192.60 418.06 L192.85 418.21 L193.10 418.36 L193.35 418.51 L193.60 418.66 L193.85 418.81 L194.10 418.96 L194.35 419.11 L194.60 419.27 L194.85 419.42 L195.10 419.58 L195.35 419.74 L195.60 419.90 L195.85 420.05 L196.10 420.22 L196.35 420.38 L196.60 420.54 L196.85 420.70 L197.10 420.87 L197.35 421.03 L197.60 421.20 L197.85 421.37 L198.10 421.53 L198.35 421.70 L198.60 421.87 L198.85 422.04 L199.10 422.21 L199.35 422.38 L199.60 422.55 L199.85 422.73 L200.10 422.90 L200.35 423.07 L200.60 423.25 L200.85 423.42 L201.10 423.60 L201.35 423.77 L201.60 423.95 L201.85 424.12 L202.10 424.30 L202.35 424.47 L202.60 424.65 L202.85 424.83 L203.10 425.00 L203.35 425.18 L203.60 425.36 L203.85 425.54 L204.10 425.71 L204.35 425.89 L204.60 426.07 L204.85 426.26 L205.10 426.44 L205.35 426.63 L205.60 426.81 L205.85 427.00 L206.10 427.19 L206.35 427.37 L206.60 427.56 L206.85 427.75 L207.10 427.95 L207.35 428.14 L207.60 428.33 L207.85 428.52 L208.10 428.72 L208.35 428.91 L208.60 429.10 L208.85 429.30 L209.10 429.49 L209.35 429.68 L209.60 429.88 L209.85 430.07 L210.10 430.27 L210.35 430.46 L210.60 430.66 L210.85 430.85 L211.10 431.04 L211.35 431.24 L211.60 431.43 L211.85 431.62 L212.10 431.81 L212.35 432.00 L212.60 432.19 L212.85 432.38 L213.10 432.57 L213.35 432.75 L213.60 432.94 L213.85 433.12 L214.10 433.31 L214.35 433.49 L214.60 433.67 L214.85 433.85 L215.10 434.04 L215.35 434.22 L215.60 434.40 L215.85 434.59 L216.10 434.77 L216.35 434.96 L216.60 435.14 L216.85 435.33 L217.10 435.51 L217.35 435.70 L217.60 435.89 L217.85 436.07 L218.10 436.26 L218.35 436.44 L218.60 436.63 L218.85 436.81 L219.10 436.99 L219.35 437.17 L219.60 437.36 L219.85 437.54 L220.10 437.72 L220.35 437.90 L220.60 438.07 L220.85 438.25 L221.10 438.43 L221.35 438.60 L221.60 438.77 L221.85 438.94 L222.10 439.11 L222.35 439.28 L222.60 439.45 L222.85 439.61 L223.10 439.77 L223.35 439.93 L223.60 440.09 L223.85 440.25 L224.10 440.40 L224.35 440.55 L224.60 440.70 L224.85 440.84 L225.10 440.99 L225.35 441.13 L225.60 441.27 L225.85 441.41 L226.10 441.55 L226.35 441.69 L226.60 441.82 L226.85 441.96 L227.10 442.10 L227.35 442.24 L227.60 442.37 L227.85 442.51 L228.10 442.64 L228.35 442.77 L228.60 442.90 L228.85 443.03 L229.10 443.16 L229.35 443.28 L229.60 443.41 L229.85 443.53 L230.10 443.64 L230.35 443.76 L230.60 443.87 L230.85 443.98 L231.10 444.09 L231.35 444.20 L231.60 444.30 L231.85 444.40 L232.10 444.49 L232.35 444.59 L232.60 444.67 L232.85 444.76 L233.10 444.84 L233.35 444.92 L233.60 444.99 L233.85 445.07 L234.10 445.15 L234.35 445.22 L234.60 445.30 L234.85 445.38 L235.10 445.46 L235.35 445.53 L235.60 445.61 L235.85 445.68 L236.10 445.75 L236.35 445.82 L236.60 445.89 L236.85 445.95 L237.10 446.01 L237.35 446.07 L237.60 446.13 L237.85 446.18 L238.10 446.22 L238.35 446.26 L238.60 446.30 L238.85 446.33 L239.10 446.36 L239.35 446.38 L239.60 446.39 L239.85 446.40 L240.10 446.40 L240.35 446.40 L240.60 446.39 L240.85 446.39 L241.10 446.38 L241.35 446.37 L241.60 446.36 L241.85 446.35 L242.10 446.33 L242.35 446.32 L242.60 446.30 L242.85 446.29 L243.10 446.27 L243.35 446.25 L243.60 446.23 L243.85 446.21 L244.10 446.19 L244.35 446.17 L244.60 446.14 L244.85 446.11 L245.10 446.07 L245.35 446.03 L245.60 445.98 L245.85 445.94 L246.10 445.88 L246.35 445.83 L246.60 445.77 L246.85 445.71 L247.10 445.65 L247.35 445.58 L247.60 445.52 L247.85 445.45 L248.10 445.38 L248.35 445.31 L248.60 445.24 L248.85 445.17 L249.10 445.09 L249.35 445.02 L249.60 444.95 L249.85 444.87 L250.10 444.80 L250.35 444.73 L250.60 444.66 L250.85 444.59 L251.10 444.51 L251.35 444.44 L251.60 444.35 L251.85 444.27 L252.10 444.18 L252.35 444.09 L252.60 443.99 L252.85 443.90 L253.10 443.80 L253.35 443.70 L253.60 443.60 L253.85 443.50 L254.10 443.39 L254.35 443.29 L254.60 443.19 L254.85 443.08 L255.10 442.98 L255.35 442.88 L255.60 442.78 L255.85 442.69 L256.10 442.59 L256.35 442.50 L256.60 442.41 L256.85 442.32 L257.10 442.24 L257.35 442.16 L257.60 442.09 L257.85 442.02 L258.10 441.95 L258.35 441.89 L258.60 441.84 L258.85 441.79 L259.10 441.74 L259.35 441.70 L259.60 441.65 L259.85 441.60 L260.10 441.56 L260.35 441.51 L260.60 441.47 L260.85 441.43 L261.10 441.40 L261.35 441.37 L261.60 441.34 L261.85 441.32 L262.10 441.31 L262.35 441.30 L262.60 441.30 L262.85 441.31 L263.10 441.33 L263.35 441.36 L263.60 441.39 L263.85 441.43 L264.10 441.48 L264.35 441.54 L264.60 441.59 L264.85 441.66 L265.10 441.72 L265.35 441.79 L265.60 441.87 L265.85 441.94 L266.10 442.01 L266.35 442.09 L266.60 442.16 L266.85 442.24 L267.10 442.34 L267.35 442.44 L267.60 442.54 L267.85 442.66 L268.10 442.78 L268.35 442.90 L268.60 443.04 L268.85 443.17 L269.10 443.31 L269.35 443.46 L269.60 443.61 L269.85 443.77 L270.10 443.93 L270.35 444.09 L270.60 444.25 L270.85 444.42 L271.10 444.58 L271.35 444.75 L271.60 444.92 L271.85 445.09 L272.10 445.26 L272.35 445.43 L272.60 445.61 L272.85 445.79 L273.10 445.97 L273.35 446.16 L273.60 446.35 L273.85 446.55 L274.10 446.75 L274.35 446.96 L274.60 447.17 L274.85 447.38 L275.10 447.60 L275.35 447.82 L275.60 448.04 L275.85 448.26 L276.10 448.49 L276.35 448.72 L276.60 448.96 L276.85 449.19 L277.10 449.43 L277.35 449.67 L277.60 449.92 L277.85 450.16 L278.10 450.40 L278.35 450.65 L278.60 450.90 L278.85 451.15 L279.10 451.40 L279.35 451.65 L279.60 451.90 L279.85 452.15 L280.10 452.40 L280.35 452.65 L280.60 452.90 L280.85 453.16 L281.10 453.42 L281.35 453.69 L281.60 453.95 L281.85 454.22 L282.10 454.50 L282.35 454.77 L282.60 455.05 L282.85 455.33 L283.10 455.61 L283.35 455.90 L283.60 456.19 L283.85 456.47 L284.10 456.76 L284.35 457.05 L284.60 457.35 L284.85 457.64 L285.10 457.93 L285.35 458.23 L285.60 458.52 L285.85 458.82 L286.10 459.11 L286.35 459.41 L286.60 459.70 L286.85 460.00 L287.10 460.29 L287.35 460.58 L287.60 460.87 L287.85 461.16 L288.10 461.45 L288.35 461.74 L288.60 462.03 L288.85 462.32 L289.10 462.62 L289.35 462.91 L289.60 463.21 L289.85 463.51 L290.10 463.81 L290.35 464.12 L290.60 464.42 L290.85 464.73 L291.10 465.04 L291.35 465.34 L291.60 465.65 L291.85 465.96 L292.10 466.26 L292.35 466.56 L292.60 466.87 L292.85 467.17 L293.10 467.47 L293.35 467.77 L293.60 468.06 L293.85 468.35 L294.10 468.64 L294.35 468.93 L294.60 469.21 L294.85 469.49 L295.10 469.76 L295.35 470.03 L295.60 470.29 L295.85 470.55 L296.10 470.81 L296.35 471.05 L296.60 471.30 L296.85 471.54 L297.10 471.78 L297.35 472.02 L297.60 472.26 L297.85 472.51 L298.10 472.75 L298.35 472.99 L298.60 473.22 L298.85 473.46 L299.10 473.70 L299.35 473.93 L299.60 474.16 L299.85 474.39 L300.10 474.61 L300.35 474.83 L300.60 475.05 L300.85 475.27 L301.10 475.48 L301.35 475.68 L301.60 475.88 L301.85 476.08 L302.10 476.27 L302.35 476.46 L302.60 476.64 L302.85 476.81 L303.10 476.98 L303.35 477.15 L303.60 477.30 L303.85 477.45 L304.10 477.59 L304.35 477.72 L304.60 477.85 L304.85 477.97 L305.10 478.10 L305.35 478.22 L305.60 478.34 L305.85 478.46 L306.10 478.57 L306.35 478.69 L306.60 478.80 L306.85 478.91 L307.10 479.02 L307.35 479.13 L307.60 479.24 L307.85 479.34 L308.10 479.44 L308.35 479.54 L308.60 479.63 L308.85 479.72 L309.10 479.81 L309.35 479.90 L309.60 479.98 L309.85 480.06 L310.10 480.14 L310.35 480.21 L310.60 480.28 L310.85 480.35 L311.10 480.41 L311.35 480.47 L311.60 480.52 L311.85 480.57 L312.10 480.62 L312.35 480.66 L312.60 480.70 L312.85 480.74 L313.10 480.77 L313.35 480.80 L313.60 480.84 L313.85 480.87 L314.10 480.91 L314.35 480.94 L314.60 480.97 L314.85 481.00 L315.10 481.02 L315.35 481.05 L315.60 481.08 L315.85 481.10 L316.10 481.12 L316.35 481.14 L316.60 481.15 L316.85 481.17 L317.10 481.18 L317.35 481.19 L317.60 481.20 L317.85 481.20 L318.10 481.20 L318.35 481.20 L318.60 481.19 L318.85 481.18 L319.10 481.17 L319.35 481.16 L319.60 481.14 L319.85 481.12 L320.10 481.10 L320.35 481.08 L320.60 481.06 L320.85 481.03 L321.10 481.01 L321.35 480.98 L321.60 480.95 L321.85 480.93 L322.10 480.90 L322.35 480.87 L322.60 480.84 L322.85 480.80 L323.10 480.75 L323.35 480.71 L323.60 480.66 L323.85 480.60 L324.10 480.54 L324.35 480.48 L324.60 480.41 L324.85 480.35 L325.10 480.27 L325.35 480.20 L325.60 480.12 L325.85 480.04 L326.10 479.96 L326.35 479.87 L326.60 479.78 L326.85 479.69 L327.10 479.60 L327.35 479.51 L327.60 479.41 L327.85 479.32 L328.10 479.22 L328.35 479.12 L328.60 479.02 L328.85 478.91 L329.10 478.81 L329.35 478.71 L329.60 478.60 L329.85 478.50 L330.10 478.39 L330.35 478.29 L330.60 478.18 L330.85 478.08 L331.10 477.97 L331.35 477.87 L331.60 477.76 L331.85 477.66 L332.10 477.56 L332.35 477.45 L332.60 477.35 L332.85 477.24 L333.10 477.13 L333.35 477.01 L333.60 476.90 L333.85 476.78 L334.10 476.66 L334.35 476.54 L334.60 476.42 L334.85 476.29 L335.10 476.17 L335.35 476.04 L335.60 475.91 L335.85 475.78 L336.10 475.65 L336.35 475.51 L336.60 475.38 L336.85 475.24 L337.10 475.11 L337.35 474.97 L337.60 474.83 L337.85 474.69 L338.10 474.55 L338.35 474.41 L338.60 474.26 L338.85 474.12 L339.10 473.98 L339.35 473.83 L339.60 473.69 L339.85 473.54 L340.10 473.40 L340.35 473.25 L340.60 473.10 L340.85 472.96 L341.10 472.81 L341.35 472.66 L341.60 472.52 L341.85 472.37 L342.10 472.22 L342.35 472.07 L342.60 471.92 L342.85 471.77 L343.10 471.62 L343.35 471.46 L343.60 471.31 L343.85 471.15 L344.10 470.99 L344.35 470.84 L344.60 470.68 L344.85 470.51 L345.10 470.35 L345.35 470.19 L345.60 470.03 L345.85 469.86 L346.10 469.70 L346.35 469.53 L346.60 469.37 L346.85 469.20 L347.10 469.03 L347.35 468.86 L347.60 468.70 L347.85 468.53 L348.10 468.36 L348.35 468.19 L348.60 468.02 L348.85 467.85 L349.10 467.68 L349.35 467.51 L349.60 467.34 L349.85 467.18 L350.10 467.01 L350.35 466.84 L350.60 466.67 L350.85 466.50 L351.10 466.33 L351.35 466.17 L351.60 466.00 L351.85 465.83 L352.10 465.67 L352.35 465.50 L352.60 465.33 L352.85 465.16 L353.10 464.99 L353.35 464.83 L353.60 464.66 L353.85 464.49 L354.10 464.32 L354.35 464.15 L354.60 463.98 L354.85 463.81 L355.10 463.64 L355.35 463.47 L355.60 463.30 L355.85 463.13 L356.10 462.96 L356.35 462.79 L356.60 462.62 L356.85 462.45 L357.10 462.27 L357.35 462.10 L357.60 461.93 L357.85 461.76 L358.10 461.59 L358.35 461.42 L358.60 461.25 L358.85 461.07 L359.10 460.90 L359.35 460.73 L359.60 460.56" stroke="#fdb176"/>
<path d="M65.81 358.41 L67.47 358.49 L69.51 358.71 L71.17 359.10 L73.21 359.47 L74.88 360.22 L76.91 361.05 L78.58 363.01 L80.61 363.49 L82.28 364.01 L84.31 365.21 L85.97 368.88 L88.01 369.82 L89.67 371.25 L91.71 372.71 L93.38 375.66 L95.41 378.26 L97.08 381.68 L99.11 384.46 L100.78 387.99 L102.81 390.80 L104.48 394.51 L106.51 397.54 L108.17 401.52 L110.21 404.76 L111.88 409.03 L113.91 412.56 L115.58 417.40 L117.61 421.29 L119.28 426.17 L121.31 430.05 L122.98 433.86 L125.01 435.76 L126.67 436.86 L128.71 437.54 L130.38 438.28 L132.41 438.82 L134.07 439.52 L136.11 440.08 L137.78 440.78 L139.81 441.42 L141.47 442.49 L143.51 443.69 L145.17 446.40 L147.21 449.10 L148.87 453.23 L150.91 456.73 L152.57 461.21 L154.61 464.86 L156.28 469.62 L158.31 473.63 L159.97 478.64 L162.01 482.07 L163.67 486.02 L165.71 488.95 L167.38 492.52 L169.41 495.19 L171.07 498.65 L173.11 501.43 L174.78 504.86 L176.81 507.36 L178.47 510.35 L180.51 512.58 L182.17 515.06 L184.21 516.49 L185.88 518.79 L187.91 522.10 L189.57 524.32 L191.61 525.33 L193.27 527.14 L195.31 528.57 L196.97 530.31 L199.01 531.43 L200.67 532.72 L202.71 533.59 L204.37 534.35 L206.41 534.75 L208.07 535.02 L210.11 535.09 L211.77 535.07 L213.81 534.94 L215.47 534.57 L217.51 534.00 L219.17 532.35 L221.21 530.83 L222.87 530.07 L224.91 529.90 L226.57 528.38 L228.61 525.54 L230.27 523.50 L232.31 522.78 L233.97 520.90 L236.01 519.13 L237.67 516.77 L239.71 514.63 L241.37 511.51 L243.41 508.81 L245.07 505.14 L247.11 502.04 L248.77 497.71 L250.81 493.93 L252.47 488.42 L254.51 484.13 L256.18 478.69 L258.21 474.54 L259.88 469.47 L261.91 465.53 L263.57 461.21 L265.61 458.69 L267.28 456.82 L269.31 456.11 L270.98 455.65 L273.01 455.39 L274.68 455.01 L276.71 454.62 L278.38 454.06 L280.41 453.51 L282.07 452.55 L284.11 451.40 L285.78 449.36 L287.81 447.07 L289.48 442.82 L291.51 439.15 L293.18 434.55 L295.21 430.87 L296.88 426.28 L298.91 422.80 L300.57 418.45 L302.61 415.10 L304.28 410.93 L306.31 407.73 L307.98 403.71 L310.01 400.65 L311.68 396.95 L313.71 394.21 L315.38 390.85 L317.41 388.35 L319.07 385.42 L321.11 383.35 L322.78 380.93 L324.81 379.14 L326.48 376.94 L328.51 375.24 L330.18 373.15 L332.21 371.57 L333.88 369.60 L335.91 368.05 L337.57 366.04 L339.61 364.54 L341.28 362.89 L343.31 361.82 L344.97 360.63 L347.01 360.00 L348.68 359.47 L350.71 359.18 L352.38 359.10 L354.41 359.12 L356.07 359.17 L358.11 359.21 L359.78 359.35 L361.81 359.51 L363.47 359.76" stroke="#d23f6a"/>
<path d="M65.25 398.18 L67.55 399.29 L68.95 398.60 L71.25 400.05 L72.66 399.38 L74.95 401.07 L76.35 400.42 L78.65 402.37 L80.05 401.73 L82.35 403.82 L83.75 403.18 L86.05 405.50 L87.45 404.88 L89.75 407.62 L91.16 407.04 L93.45 410.43 L94.85 409.88 L97.15 413.45 L98.55 412.90 L100.85 416.60 L102.25 416.06 L104.55 419.89 L105.95 419.36 L108.25 423.32 L109.66 422.79 L111.95 426.83 L113.35 426.30 L115.65 430.48 L117.06 429.97 L119.35 434.07 L120.75 433.53 L123.05 437.03 L124.45 436.46 L126.75 439.61 L128.16 439.03 L130.45 441.96 L131.85 441.36 L134.15 444.06 L135.56 443.46 L137.85 446.39 L139.25 445.80 L141.55 449.00 L142.95 448.43 L145.25 451.91 L146.65 451.36 L148.95 455.31 L150.35 454.79 L152.65 459.28 L154.06 458.80 L156.35 463.53 L157.75 463.04 L160.05 467.42 L161.45 466.91 L163.75 471.11 L165.15 470.59 L167.45 474.55 L168.85 474.02 L171.15 477.84 L172.56 477.30 L174.85 480.88 L176.25 480.31 L178.55 483.57 L179.95 483.00 L182.25 486.06 L183.66 485.47 L185.95 488.22 L187.35 487.61 L189.65 490.05 L191.06 489.43 L193.35 491.67 L194.75 491.04 L197.05 492.96 L198.45 492.30 L200.75 493.89 L202.16 493.22 L204.45 494.55 L205.85 494.02 L208.15 494.68 L209.56 494.45 L211.85 494.44 L213.25 494.79 L215.55 493.64 L216.95 494.32 L219.25 492.79 L220.66 493.45 L222.95 491.43 L224.35 492.06 L226.65 489.78 L228.06 490.41 L230.35 487.96 L231.75 488.56 L234.05 485.74 L235.45 486.32 L237.75 483.16 L239.16 483.73 L241.45 480.13 L242.85 480.66 L245.15 476.53 L246.56 477.01 L248.85 472.23 L250.25 472.72 L252.55 468.45 L253.95 468.97 L256.25 464.79 L257.65 465.29 L259.95 460.91 L261.36 461.42 L263.65 457.39 L265.06 457.94 L267.35 454.53 L268.75 455.11 L271.05 452.24 L272.46 452.86 L274.75 450.36 L276.15 450.98 L278.45 448.31 L279.86 448.91 L282.15 446.11 L283.56 446.70 L285.85 443.45 L287.25 443.98 L289.55 439.79 L290.96 440.30 L293.25 436.10 L294.65 436.62 L296.95 432.39 L298.36 432.91 L300.65 428.69 L302.06 429.21 L304.35 425.10 L305.75 425.62 L308.05 421.68 L309.46 422.21 L311.75 418.41 L313.16 418.95 L315.45 415.28 L316.86 415.83 L319.15 412.32 L320.56 412.88 L322.85 409.50 L324.25 410.06 L326.55 406.94 L327.96 407.53 L330.25 404.72 L331.65 405.32 L333.95 402.81 L335.36 403.44 L337.65 401.16 L339.06 401.80 L341.35 399.92 L342.75 400.60 L345.05 399.07 L346.46 399.75 L348.75 398.87 L350.15 399.03 L352.45 398.90 L353.86 398.95 L356.15 398.89 L357.56 398.88 L359.85 399.29 L361.25 398.80 L363.55 399.98 L364.96 399.30 L367.25 400.41 L368.66 400.01 L370.95 400.19 L372.36 400.50 L374.65 399.19" stroke="#51127c"/>
</g>
<rect x="72.10" y="312.50" width="285.50" height="268.80" class="f"/>
<line x1="186" y1="174.3" x2="209.8" y2="174.3" stroke="#fdb176" class="l"/>
<line x1="186" y1="205.6" x2="209.8" y2="205.6" stroke="#d23f6a" class="l"/>
<line x1="186" y1="237.0" x2="209.8" y2="237.0" stroke="#51127c" class="l"/>
<line x1="256.8" y1="495.0" x2="280.5" y2="495.0" stroke="#fdb176" class="l"/>
<line x1="256.8" y1="527.0" x2="280.5" y2="527.0" stroke="#d23f6a" class="l"/>
<line x1="256.8" y1="559.1" x2="280.5" y2="559.1" stroke="#51127c" class="l"/>
<text transform="translate(27.64 24.55) scale(0.2639 0.2545)" class="u">1</text>
<text transform="translate(18.32 85.40) scale(0.2588 0.2507)" class="u">0.5</text>
<text transform="translate(27.85 146.50) scale(0.2659 0.2507)" class="u">0</text>
<line x1="10.15" y1="200.15" x2="25.55" y2="200.15" stroke="#000" stroke-width="1.05"/>
<text transform="translate(27.27 206.70) scale(0.2588 0.2507)" class="u">0.5</text>
<line x1="20.80" y1="261.25" x2="36.20" y2="261.25" stroke="#000" stroke-width="1.05"/>
<text transform="translate(36.59 268.05) scale(0.2639 0.2545)" class="u">1</text>
<text transform="translate(18.41 365.35) scale(0.2638 0.2507)" class="u">0.1</text>
<text transform="translate(27.85 454.95) scale(0.2659 0.2507)" class="u">0</text>
<line x1="10.25" y1="537.10" x2="25.65" y2="537.10" stroke="#000" stroke-width="1.05"/>
<text transform="translate(27.36 543.65) scale(0.2638 0.2507)" class="u">0.1</text>
<text transform="translate(64.95 298.15) scale(0.2659 0.2507)" class="u">0</text>
<text transform="translate(64.95 607.05) scale(0.2659 0.2507)" class="u">0</text>
<text transform="translate(112.75 298.15) scale(0.2675 0.2507)" class="u">0.2</text>
<text transform="translate(112.75 607.05) scale(0.2675 0.2507)" class="u">0.2</text>
<text transform="translate(169.87 298.15) scale(0.2587 0.2507)" class="u">0.4</text>
<text transform="translate(169.87 607.05) scale(0.2587 0.2507)" class="u">0.4</text>
<text transform="translate(227.02 298.15) scale(0.2600 0.2507)" class="u">0.6</text>
<text transform="translate(227.02 607.05) scale(0.2600 0.2507)" class="u">0.6</text>
<text transform="translate(284.06 298.15) scale(0.2630 0.2507)" class="u">0.8</text>
<text transform="translate(284.06 607.05) scale(0.2630 0.2507)" class="u">0.8</text>
<text transform="translate(350.74 298.40) scale(0.2639 0.2545)" class="u">1</text>
<text transform="translate(350.74 607.30) scale(0.2639 0.2545)" class="u">1</text>
<text transform="translate(219.40 180.96) scale(0.2730 0.2494)" class="i">j</text>
<path d="M232.98 173.60 L233.25 174.76 M235.53 174.89 C234.22 175.30 232.98 174.96 232.01 175.16 C230.77 175.78 229.87 176.86 230.01 177.82 C230.15 178.84 231.46 179.18 232.50 179.18 L234.50 179.04 M232.98 179.18 C230.91 179.45 229.04 180.67 228.98 182.37 C228.91 183.73 230.77 184.34 232.50 184.89 C233.74 185.30 234.50 185.77 234.15 186.45 C233.88 187.06 232.98 187.20 232.15 187.00" fill="none" stroke="#000" stroke-width="1.20" stroke-linecap="round" stroke-linejoin="round"/>
<text transform="translate(236.26 186.90) scale(0.1806 0.1333)" class="u">1</text>
<text transform="translate(219.40 212.26) scale(0.2730 0.2494)" class="i">j</text>
<path d="M232.98 204.90 L233.25 206.06 M235.53 206.19 C234.22 206.60 232.98 206.26 232.01 206.46 C230.77 207.08 229.87 208.16 230.01 209.12 C230.15 210.14 231.46 210.48 232.50 210.48 L234.50 210.34 M232.98 210.48 C230.91 210.75 229.04 211.97 228.98 213.67 C228.91 215.03 230.77 215.64 232.50 216.19 C233.74 216.60 234.50 217.07 234.15 217.75 C233.88 218.36 232.98 218.50 232.15 218.30" fill="none" stroke="#000" stroke-width="1.20" stroke-linecap="round" stroke-linejoin="round"/>
<text transform="translate(236.99 218.07) scale(0.1780 0.1313)" class="u">2</text>
<text transform="translate(219.40 243.56) scale(0.2730 0.2494)" class="i">j</text>
<path d="M232.98 236.20 L233.25 237.36 M235.53 237.49 C234.22 237.90 232.98 237.56 232.01 237.76 C230.77 238.38 229.87 239.46 230.01 240.42 C230.15 241.44 231.46 241.78 232.50 241.78 L234.50 241.64 M232.98 241.78 C230.91 242.05 229.04 243.27 228.98 244.97 C228.91 246.33 230.77 246.94 232.50 247.49 C233.74 247.90 234.50 248.37 234.15 249.05 C233.88 249.66 232.98 249.80 232.15 249.60" fill="none" stroke="#000" stroke-width="1.20" stroke-linecap="round" stroke-linejoin="round"/>
<text transform="translate(237.02 249.24) scale(0.1698 0.1294)" class="u">3</text>
<text transform="translate(288.86 501.06) scale(0.2646 0.2164)" class="i">μ</text>
<text transform="translate(302.17 505.69) scale(0.2091 0.1559)" class="u">0</text>
<text transform="translate(314.76 502.04) scale(0.2791 0.2571)" class="i">h</text>
<path d="M335.07 494.90 L335.38 496.05 M337.92 496.18 C336.46 496.59 335.07 496.25 334.00 496.45 C332.61 497.06 331.61 498.14 331.76 499.09 C331.92 500.10 333.38 500.44 334.54 500.44 L336.77 500.30 M335.07 500.44 C332.76 500.70 330.69 501.92 330.61 503.61 C330.53 504.96 332.61 505.56 334.54 506.10 C335.92 506.51 336.77 506.98 336.38 507.66 C336.07 508.26 335.07 508.40 334.15 508.20" fill="none" stroke="#000" stroke-width="1.20" stroke-linecap="round" stroke-linejoin="round"/>
<text transform="translate(338.90 508.60) scale(0.1750 0.1333)" class="u">1</text>
<text transform="translate(288.86 533.06) scale(0.2646 0.2164)" class="i">μ</text>
<text transform="translate(302.17 537.69) scale(0.2091 0.1559)" class="u">0</text>
<text transform="translate(314.76 534.04) scale(0.2791 0.2571)" class="i">h</text>
<path d="M335.07 526.90 L335.38 528.05 M337.92 528.18 C336.46 528.59 335.07 528.25 334.00 528.45 C332.61 529.06 331.61 530.14 331.76 531.08 C331.92 532.10 333.38 532.43 334.54 532.43 L336.77 532.30 M335.07 532.43 C332.76 532.70 330.69 533.92 330.61 535.61 C330.53 536.96 332.61 537.56 334.54 538.11 C335.92 538.51 336.77 538.98 336.38 539.66 C336.07 540.26 335.07 540.40 334.15 540.20" fill="none" stroke="#000" stroke-width="1.20" stroke-linecap="round" stroke-linejoin="round"/>
<text transform="translate(339.61 540.47) scale(0.1732 0.1313)" class="u">2</text>
<text transform="translate(288.86 565.16) scale(0.2646 0.2164)" class="i">μ</text>
<text transform="translate(302.17 569.79) scale(0.2091 0.1559)" class="u">0</text>
<text transform="translate(314.76 566.14) scale(0.2791 0.2571)" class="i">h</text>
<path d="M335.07 559.00 L335.38 560.15 M337.92 560.28 C336.46 560.69 335.07 560.35 334.00 560.55 C332.61 561.16 331.61 562.24 331.76 563.18 C331.92 564.20 333.38 564.53 334.54 564.53 L336.77 564.40 M335.07 564.53 C332.76 564.80 330.69 566.02 330.61 567.71 C330.53 569.06 332.61 569.66 334.54 570.21 C335.92 570.61 336.77 571.08 336.38 571.76 C336.07 572.37 335.07 572.50 334.15 572.30" fill="none" stroke="#000" stroke-width="1.20" stroke-linecap="round" stroke-linejoin="round"/>
<text transform="translate(339.64 572.44) scale(0.1651 0.1294)" class="u">3</text>
<path d="M178.28 625.05 L178.63 626.87 M181.46 627.08 C179.83 627.72 178.28 627.19 177.08 627.51 C175.53 628.47 174.41 630.19 174.58 631.68 C174.76 633.29 176.39 633.82 177.68 633.82 L180.17 633.61 M178.28 633.82 C175.70 634.25 173.38 636.18 173.29 638.85 C173.21 640.99 175.53 641.96 177.68 642.81 C179.23 643.45 180.17 644.20 179.74 645.27 C179.40 646.24 178.28 646.45 177.25 646.13" fill="none" stroke="#000" stroke-width="1.50" stroke-linecap="round" stroke-linejoin="round"/>
<text transform="translate(181.63 645.17) scale(0.2186 0.1632)" class="u">3</text>
<text transform="translate(203.82 641.37) scale(0.2450 0.2424)" class="u">(mm)</text>
</svg>
</body></html>
